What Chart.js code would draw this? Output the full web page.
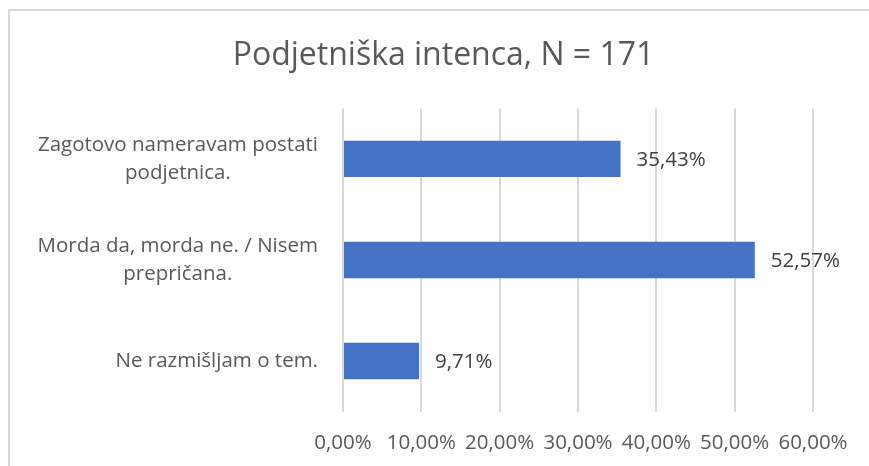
<!DOCTYPE html>
<html>
<head>
<meta charset="utf-8">
<script src="https://cdn.jsdelivr.net/npm/chart.js@4.4.1/dist/chart.umd.min.js"></script>
<style>
    html, body { margin: 0; padding: 0; background: #fff; }
</style>
</head>
<body>
<canvas id="grafIntenca" width="869" height="466"></canvas>
<script>
const naslov = 'Podjetniška intenca, N = 171';
const kategorije = [
    ['Zagotovo nameravam postati', 'podjetnica.'],
    ['Morda da, morda ne. / Nisem', 'prepričana.'],
    ['Ne razmišljam o tem.']
];
const odstotki = [35.43, 52.57, 9.71];
const oznakeX = ['0,00%', '10,00%', '20,00%', '30,00%', '40,00%', '50,00%', '60,00%'];

const pisava = '"Open Sans", "Noto Sans", sans-serif';

function formatiraj(vrednost) {
    return vrednost.toFixed(2).replace('.', ',') + '%';
}

// okvir grafa (kot v Excelu)
const okvir = {
    id: 'okvir',
    beforeDraw(chart) {
        const ctx = chart.ctx;
        ctx.save();
        ctx.fillStyle = '#ffffff';
        ctx.fillRect(0, 0, chart.width, chart.height);
        ctx.strokeStyle = '#d9d9d9';
        ctx.lineWidth = 2;
        ctx.beginPath();
        ctx.moveTo(9, chart.height);
        ctx.lineTo(9, 10);
        ctx.lineTo(chart.width, 10);
        ctx.stroke();
        ctx.restore();
    }
};

// oznake kategorij: blok desno poravnan, vrstice centrirane
const oznakeY = {
    id: 'oznakeY',
    afterDraw(chart) {
        const ctx = chart.ctx;
        const y = chart.scales.y;
        const desno = chart.chartArea.left - 25;
        ctx.save();
        ctx.font = '20.5px ' + pisava;
        ctx.fillStyle = '#595959';
        ctx.textAlign = 'center';
        ctx.textBaseline = 'middle';
        kategorije.forEach((vrstice, i) => {
            const sredina = y.getPixelForValue(i);
            const sirina = Math.max(...vrstice.map(v => ctx.measureText(v).width));
            const x = desno - sirina / 2;
            vrstice.forEach((v, j) => {
                ctx.fillText(v, x, sredina + (j - (vrstice.length - 1) / 2) * 28);
            });
        });
        ctx.restore();
    }
};

// vrednosti ob stolpcih
const vrednosti = {
    id: 'vrednosti',
    afterDatasetsDraw(chart) {
        const ctx = chart.ctx;
        const meta = chart.getDatasetMeta(0);
        ctx.save();
        ctx.font = '20.5px ' + pisava;
        ctx.fillStyle = '#404040';
        ctx.textAlign = 'left';
        ctx.textBaseline = 'middle';
        meta.data.forEach((stolpec, i) => {
            ctx.fillText(formatiraj(odstotki[i]), stolpec.x + 16, stolpec.y + 1);
        });
        ctx.restore();
    }
};

const grafIntenca = new Chart(document.getElementById('grafIntenca'), {
    type: 'bar',
    data: {
        labels: kategorije,
        datasets: [{
            label: naslov,
            data: odstotki,
            backgroundColor: '#4472c4',
            borderWidth: 0,
            categoryPercentage: 1,
            barPercentage: 0.36
        }]
    },
    options: {
        indexAxis: 'y',
        responsive: false,
        animation: false,
        devicePixelRatio: 1,
        layout: { padding: { left: 18, right: 0, top: 0, bottom: 0 } },
        plugins: {
            legend: { display: false },
            tooltip: { enabled: false },
            title: {
                display: true,
                text: naslov,
                color: '#595959',
                font: { family: pisava, size: 32, weight: 'normal' },
                padding: { top: 37, bottom: 33 }
            }
        },
        scales: {
            x: {
                min: 0,
                max: 60,
                ticks: {
                    stepSize: 10,
                    color: '#595959',
                    font: { family: pisava, size: 20.5 },
                    padding: 19,
                    maxRotation: 0,
                    callback: (v, i) => oznakeX[i]
                },
                grid: { color: '#d9d9d9', lineWidth: 2, drawTicks: false },
                border: { display: false },
                afterFit(skala) {
                    skala.height = 54.5;
                    skala.paddingRight = 56;
                    skala.paddingLeft = 0;
                }
            },
            y: {
                ticks: { display: false },
                grid: { display: false },
                border: { display: false },
                afterFit(skala) {
                    skala.width = 325;
                }
            }
        }
    },
    plugins: [okvir, oznakeY, vrednosti]
});
</script>
</body>
</html>
